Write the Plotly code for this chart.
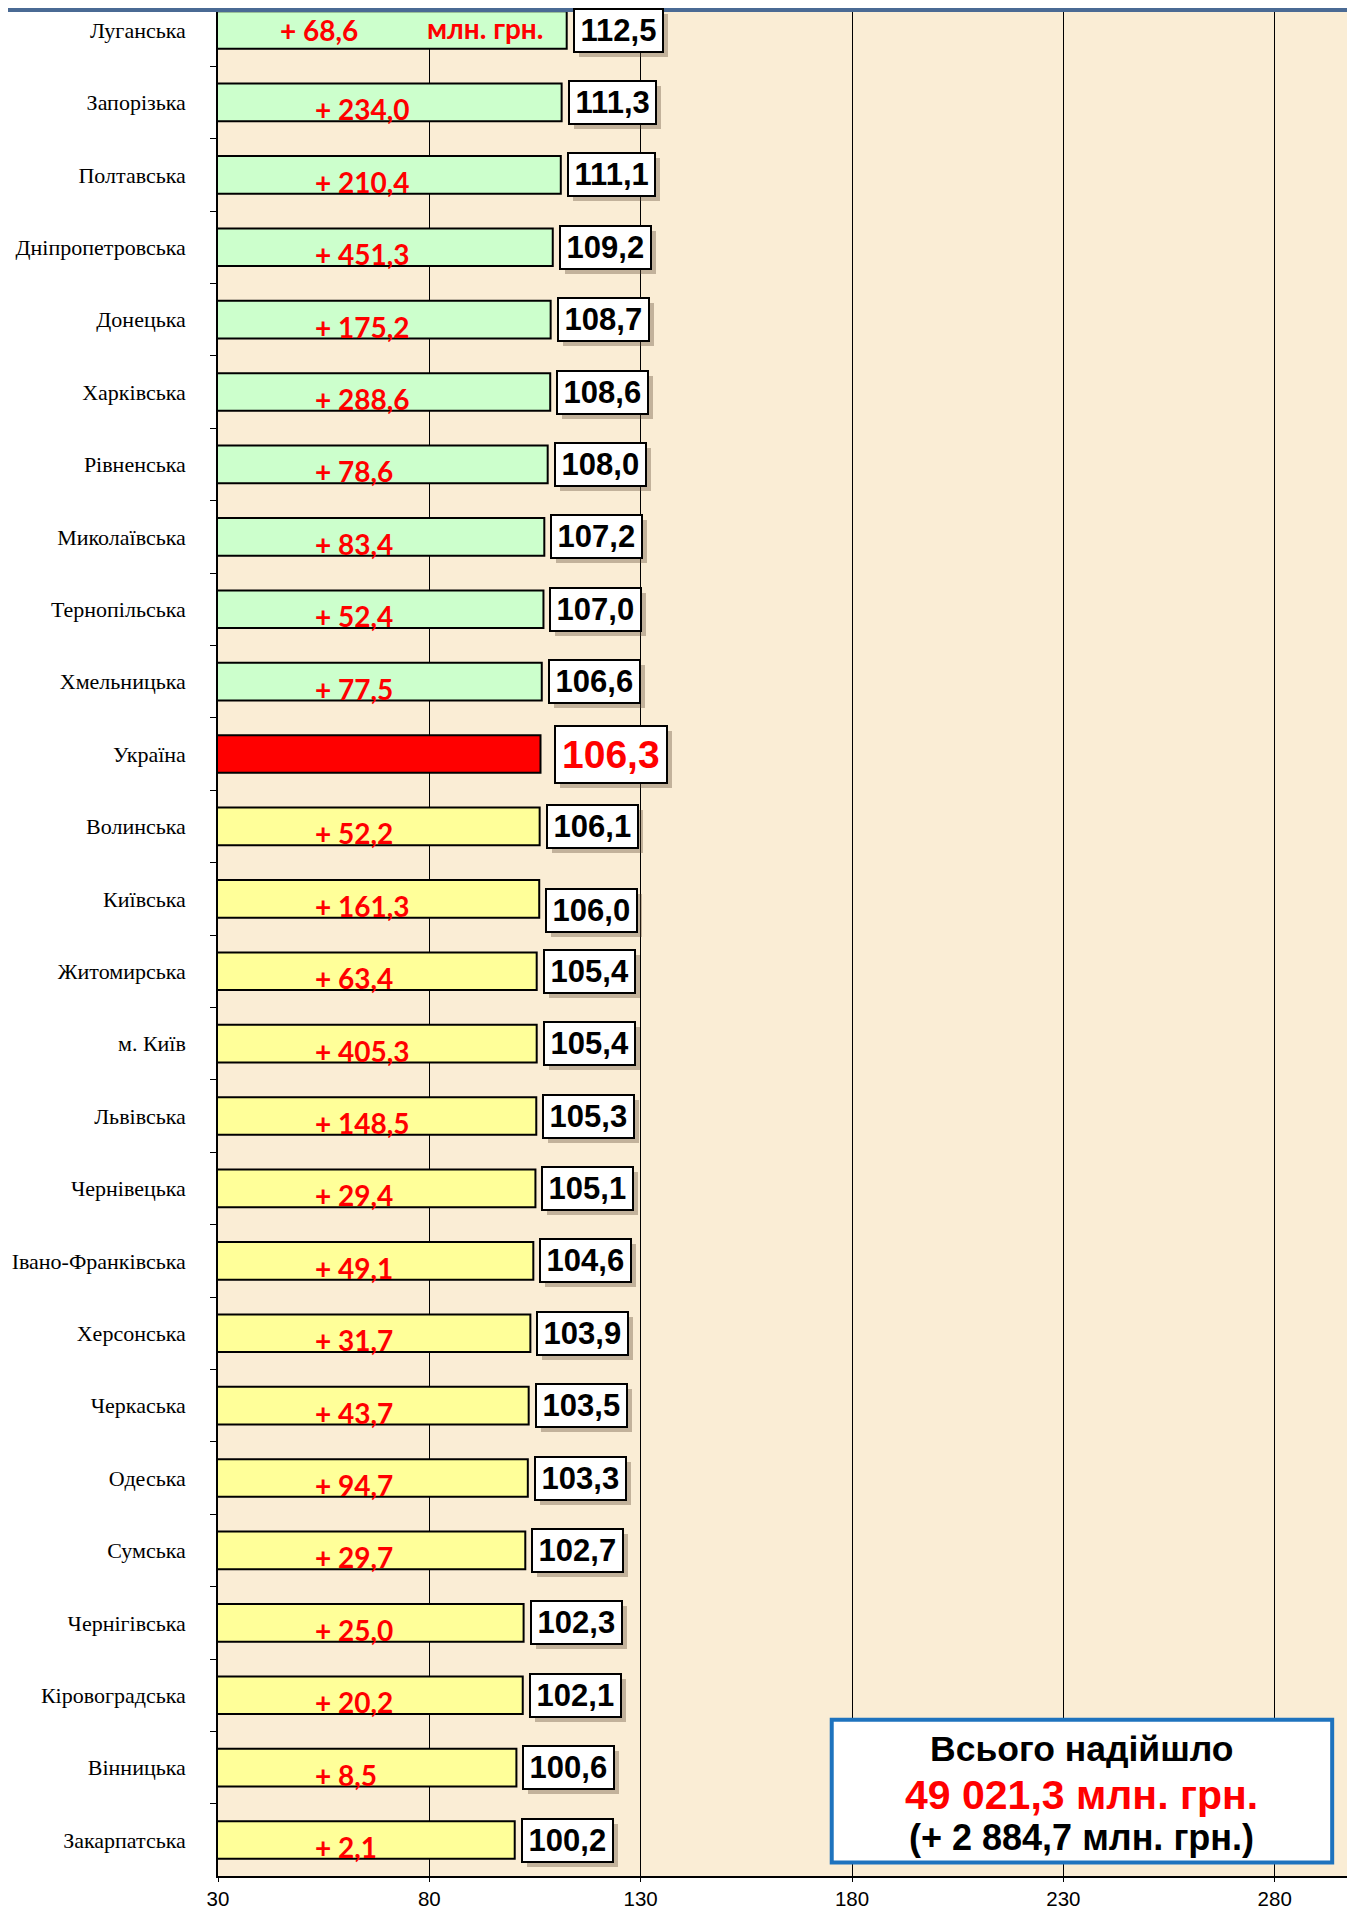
import plotly.graph_objects as go

regions = ["Луганська", "Запорізька", "Полтавська", "Дніпропетровська", "Донецька",
           "Харківська", "Рівненська", "Миколаївська", "Тернопільська", "Хмельницька",
           "Україна", "Волинська", "Київська", "Житомирська", "м. Київ", "Львівська",
           "Чернівецька", "Івано-Франківська", "Херсонська", "Черкаська", "Одеська",
           "Сумська", "Чернігівська", "Кіровоградська", "Вінницька", "Закарпатська"]
index_pct = [112.5, 111.3, 111.1, 109.2, 108.7, 108.6, 108.0, 107.2, 107.0, 106.6,
             106.3, 106.1, 106.0, 105.4, 105.4, 105.3, 105.1, 104.6, 103.9, 103.5,
             103.3, 102.7, 102.3, 102.1, 100.6, 100.2]
increase_mln = [68.6, 234.0, 210.4, 451.3, 175.2, 288.6, 78.6, 83.4, 52.4, 77.5,
                None, 52.2, 161.3, 63.4, 405.3, 148.5, 29.4, 49.1, 31.7, 43.7,
                94.7, 29.7, 25.0, 20.2, 8.5, 2.1]
group = ["above"] * 10 + ["total"] + ["below"] * 15
x_ticks = [30, 80, 130, 180, 230, 280]
total_line1 = "Всього надійшло"
total_line2 = "49 021,3 млн. грн."
total_line3 = "(+ 2 884,7 млн. грн.)"
unit_label = "млн. грн."

color_map = {"above": "#CCFFCC", "total": "#FF0000", "below": "#FFFF99"}
HAIR = "\u200a"

# the page body adds an 8px margin; size the figure to fit the window
W, H = 1347, 1902
L, T, B = 210, 4, 34
PH = H - T - B


def fmt(v):
    return f"{v:.1f}".replace(".", ",")


fig = go.Figure()
fig.add_trace(go.Bar(
    y=regions, x=index_pct, orientation="h",
    marker=dict(color=[color_map[g] for g in group], line=dict(color="black", width=2)),
    width=0.52, hoverinfo="x+y",
))

ann = []
for i, (r, v, inc, g) in enumerate(zip(regions, index_pct, increase_mln, group)):
    is_total = g == "total"
    txt = "<b>" + (fmt(v) if is_total else HAIR + fmt(v) + HAIR) + "</b>"
    fsize = 39 if is_total else 31
    pad = 6 if is_total else 3
    fcol = "#FF0000" if is_total else "black"
    xs = 13 if is_total else 6
    ys = -12 if r == "Київська" else 0
    # shadow
    ann.append(dict(x=v, y=i, xref="x", yref="y", text=txt, showarrow=False,
                    xanchor="left", yanchor="middle", xshift=xs + 5, yshift=ys - 5,
                    font=dict(family="Liberation Sans, Arial", size=fsize, color="rgba(0,0,0,0)"),
                    bgcolor="rgba(90,70,50,0.35)", bordercolor="rgba(0,0,0,0)",
                    borderwidth=2, borderpad=pad))
    ann.append(dict(x=v, y=i, xref="x", yref="y", text=txt, showarrow=False,
                    xanchor="left", yanchor="middle", xshift=xs, yshift=ys,
                    font=dict(family="Liberation Sans, Arial", size=fsize, color=fcol),
                    bgcolor="white", bordercolor="black", borderwidth=2, borderpad=pad))
    if inc is not None:
        first = i == 0
        ann.append(dict(x=44.2 if first else 52.5, y=i, xref="x", yref="y",
                        text="<b>+ " + fmt(inc) + "</b>", showarrow=False,
                        xanchor="left", yanchor="middle", yshift=0 if first else -7,
                        font=dict(family="Lato, Liberation Sans", size=28, color="#FF0000")))
        if first:
            ann.append(dict(x=79, y=i, xref="x", yref="y", text="<b>" + unit_label + "</b>",
                            showarrow=False, xanchor="left", yanchor="middle", yshift=2,
                            font=dict(family="Lato, Liberation Sans", size=28, color="#FF0000")))

# summary box text
for txt, yy, sz, col in [(total_line1, 23.74, 35.5, "black"),
                         (total_line2, 24.38, 41, "#FF0000"),
                         (total_line3, 24.97, 36, "black")]:
    ann.append(dict(x=234.4, y=yy, xref="x", yref="y", text="<b>" + txt + "</b>",
                    showarrow=False, xanchor="center", yanchor="middle",
                    font=dict(family="Liberation Sans, Arial", size=sz, color=col)))

shapes = [
    dict(type="rect", xref="x", yref="y", x0=175.2, x1=293.6, y0=23.34, y1=25.31,
         line=dict(color="#1E73BE", width=4), fillcolor="white", layer="above"),
    dict(type="rect", xref="paper", yref="paper", x0=-L / (W - L), x1=1.0,
         y0=1.0, y1=1.0 + T / PH, line=dict(width=0), fillcolor="#4A6A94"),
]

fig.update_layout(
    width=W, height=H,
    margin=dict(l=L, r=0, t=T, b=B, autoexpand=False),
    paper_bgcolor="white", plot_bgcolor="#FAEDD5",
    showlegend=False, bargap=0.48,
    annotations=ann, shapes=shapes,
    xaxis=dict(range=[30, 299], tickvals=x_ticks, ticktext=[str(t) for t in x_ticks],
               ticks="outside", ticklen=4, tickcolor="black", automargin=False,
               showgrid=True, gridcolor="black", gridwidth=1,
               showline=True, linecolor="black", linewidth=1.5, zeroline=False,
               tickfont=dict(family="Liberation Sans, Arial", size=20.5, color="black")),
    yaxis=dict(type="category", range=[25.497, -0.249], tickson="boundaries",
               ticks="outside", ticklen=6, tickcolor="black", automargin=False,
               showline=True, linecolor="black", linewidth=1.5, showgrid=False,
               ticklabelstandoff=26,
               tickfont=dict(family="Liberation Serif, Times New Roman", size=22, color="black")),
)

fig.write_html("out.html")
